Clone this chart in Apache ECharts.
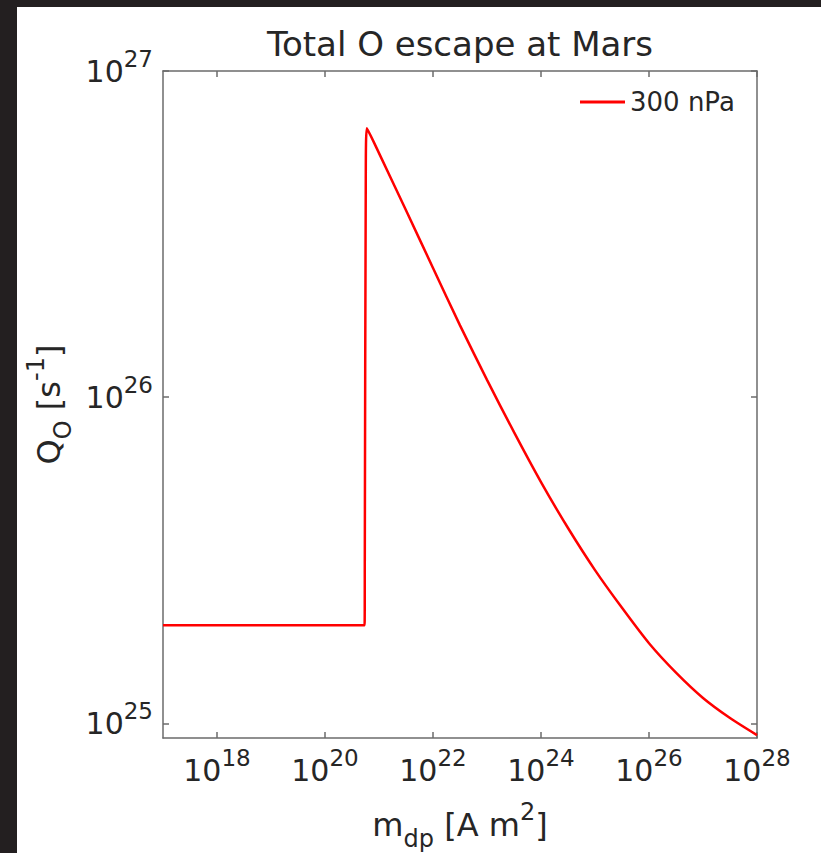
<!DOCTYPE html>
<html>
<head>
<meta charset="utf-8">
<title>Total O escape at Mars</title>
<script src="https://cdn.jsdelivr.net/npm/echarts@6/dist/echarts.min.js"></script>
<style>
  html, body { margin: 0; padding: 0; background: #231f20; }
  #chart { position: absolute; left: 17px; top: 7px; width: 804px; height: 846px; background: #ffffff; }
</style>
</head>
<body>
<div id="chart"></div>
<script>
// Dipole moment, as log10 of m_dp [A m^2]
const mdpExp = [17, 20.733, 20.737, 20.755, 20.775, 21, 21.5, 22, 22.5, 23, 23.5, 24, 24.5, 25, 25.5, 26, 26.5, 27, 27.5, 28];
// Total O escape rate Q_O [s^-1] at 300 nPa
const qO = [2.0e25, 2.0e25, 3.2e25, 4.7e26, 6.67e26, 5.6e26, 3.74e26, 2.49e26, 1.66e26, 1.13e26, 7.81e25, 5.49e25, 3.97e25, 2.95e25, 2.26e25, 1.76e25, 1.43e25, 1.196e25, 1.038e25, 9.2e24];
const seriesName = '300 nPa';

// Decade tick positions (exponents)
const xTickExp = [18, 20, 22, 24, 26, 28];
const yTickExp = [25, 26, 27];

const xRange = [17, 28];
const yRange = [24.955, 27];

const points = mdpExp.map((e, i) => [e, Math.log10(qO[i])]);

const FONT = '"DejaVu Sans", "Noto Sans", sans-serif';
const INK = '#262626';
const AXIS = '#6b6b6b';

// Superscripts / subscripts: tokens are middle-aligned, asymmetric padding shifts them
const powRich = {
  b: { fontFamily: FONT, fontSize: 30, color: INK, lineHeight: 30, verticalAlign: 'middle' },
  s: { fontFamily: FONT, fontSize: 23, color: INK, lineHeight: 22, verticalAlign: 'middle', padding: [0, 0, 25, 0] }
};
const powFormatter = v => '{b|10}{s|' + Math.round(v) + '}';

const nameRich = {
  b: { fontFamily: FONT, fontSize: 32, color: INK, lineHeight: 31, verticalAlign: 'middle' },
  sup: { fontFamily: FONT, fontSize: 24, color: INK, lineHeight: 22, verticalAlign: 'middle', padding: [0, 0, 26, 0] },
  sub: { fontFamily: FONT, fontSize: 24, color: INK, lineHeight: 22, verticalAlign: 'middle', padding: [28, 0, 0, 0] }
};

const frameLine = { show: true, onZero: false, lineStyle: { color: AXIS, width: 1.5 } };
const tickStyle = { inside: true, length: 6, lineStyle: { color: AXIS, width: 1.5 } };

const chart = echarts.init(document.getElementById('chart'), null, { renderer: 'svg' });

chart.setOption({
  backgroundColor: '#ffffff',
  animation: false,
  title: {
    text: 'Total O escape at Mars',
    left: 443,
    textAlign: 'center',
    top: 20,
    padding: 0,
    textStyle: { fontFamily: FONT, fontSize: 34, fontWeight: 'normal', color: INK }
  },
  legend: {
    data: [{ name: seriesName, icon: 'rect' }],
    left: 563,
    top: 82,
    padding: 0,
    itemWidth: 45,
    itemHeight: 3,
    itemGap: 5,
    textStyle: { fontFamily: FONT, fontSize: 26, color: INK }
  },
  grid: { left: 146, right: 64, top: 64, bottom: 115, containLabel: false, outerBoundsMode: 'none' },
  xAxis: [
    {
      type: 'value', position: 'bottom', min: xRange[0], max: xRange[1],
      axisLine: frameLine,
      axisTick: Object.assign({ customValues: xTickExp }, tickStyle),
      axisLabel: { customValues: xTickExp, formatter: powFormatter, rich: powRich, margin: 17 },
      splitLine: { show: false },
      name: '{b|m}{sub|dp}{b| [A m}{sup|2}{b|]}',
      nameLocation: 'middle',
      nameGap: 46,
      nameTextStyle: { rich: nameRich }
    },
    {
      type: 'value', position: 'top', min: xRange[0], max: xRange[1],
      axisLine: frameLine,
      axisTick: Object.assign({ customValues: xTickExp }, tickStyle),
      axisLabel: { show: false },
      splitLine: { show: false }
    }
  ],
  yAxis: [
    {
      type: 'value', position: 'left', min: yRange[0], max: yRange[1],
      axisLine: frameLine,
      axisTick: Object.assign({ customValues: yTickExp }, tickStyle),
      axisLabel: { customValues: yTickExp, formatter: powFormatter, rich: powRich, margin: 10 },
      splitLine: { show: false },
      name: '{b|Q}{sub|O}{b| [s}{sup|-1}{b|]}',
      nameLocation: 'middle',
      nameRotate: 90,
      nameGap: 97,
      nameTextStyle: { rich: nameRich }
    },
    {
      type: 'value', position: 'right', min: yRange[0], max: yRange[1],
      axisLine: frameLine,
      axisTick: Object.assign({ customValues: yTickExp }, tickStyle),
      axisLabel: { show: false },
      splitLine: { show: false }
    }
  ],
  series: [
    {
      name: seriesName,
      type: 'line',
      xAxisIndex: 0,
      yAxisIndex: 0,
      data: points,
      showSymbol: false,
      symbol: 'none',
      smooth: 0.25,
      lineStyle: { color: '#ff0000', width: 2.5 },
      itemStyle: { color: '#ff0000' },
      clip: true
    }
  ]
});
</script>
</body>
</html>
